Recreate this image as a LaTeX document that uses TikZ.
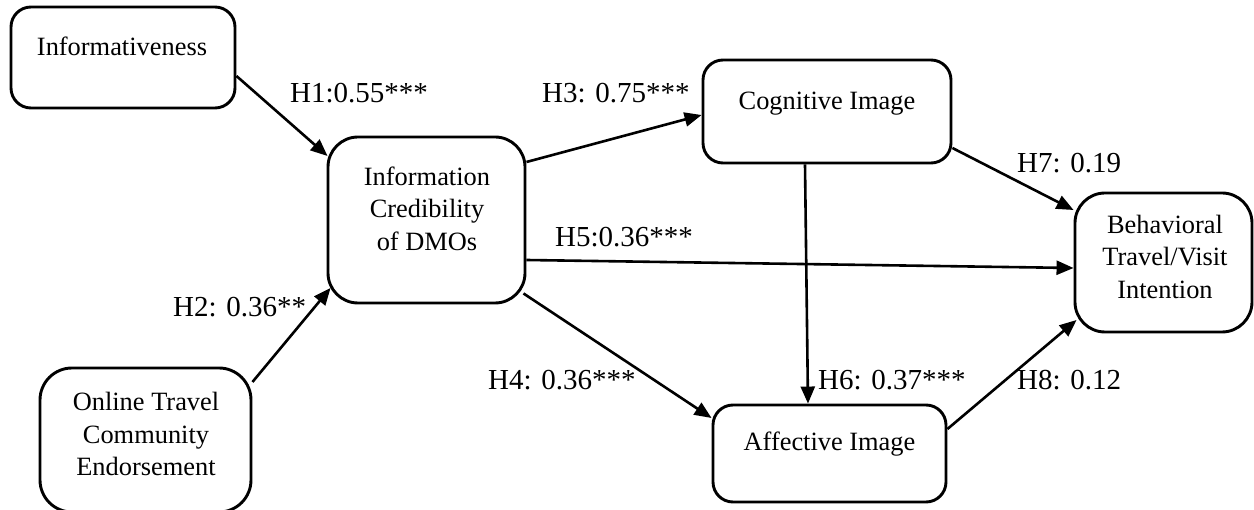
\documentclass[tikz,border=0pt]{standalone}
\usepackage{fontspec}
\setmainfont{Liberation Serif}
\usetikzlibrary{arrows.meta}
\tikzset{
  box/.style={draw, line width=2.9pt, rounded corners=#1, inner sep=0pt},
  box/.default=20pt,
  boxtext/.style={font=\fontsize{26.4}{32.5}\selectfont, align=center, inner sep=0pt},
  lab/.style={font=\fontsize{29}{34}\selectfont, anchor=base west, inner sep=0pt},
  arr/.style={line width=2.6pt, -{Triangle[length=17pt,width=14pt]}}
}
\begin{document}
\begin{tikzpicture}[x=1pt,y=-1pt]
\clip (0,0) rectangle (1254,510);
% boxes
\node[box, minimum width=224pt, minimum height=101pt] (inf) at (123,57.5) {};
\node[box=30pt, minimum width=197pt, minimum height=166pt] (cred) at (426.5,220) {};
\node[box=32pt, minimum width=211pt, minimum height=144pt] (onl) at (145.5,440) {};
\node[box, minimum width=248pt, minimum height=103pt] (cog) at (827,111.5) {};
\node[box, minimum width=233pt, minimum height=97pt] (aff) at (829.5,453.5) {};
\node[box=30pt, minimum width=177pt, minimum height=139pt] (beh) at (1163.5,262.5) {};
% texts
\node[boxtext, anchor=base] (tinf) at (122,56) {Informativeness};
\node[boxtext] (tcred) at (427,208.5) {Information\\Credibility\\of DMOs};
\node[boxtext] (tonl) at (146,434) {Online Travel\\Community\\Endorsement};
\node[boxtext, anchor=base] (tcog) at (827,110) {Cognitive Image};
\node[boxtext, anchor=base] (taff) at (829.5,451) {Affective Image};
\node[boxtext] (tbeh) at (1165,256.5) {Behavioral\\Travel/Visit\\Intention};
% connectors
\draw[arr] ([yshift=-18.5pt]inf.east) -- ([xshift=1pt,yshift=64pt]cred.west);
\draw[arr] ([yshift=58pt]onl.east) -- ([xshift=4pt,yshift=-68pt]cred.west);
\draw[arr] ([yshift=58pt]cred.east) -- ([yshift=-3.5pt]cog.west);
\draw[arr] ([yshift=-40pt]cred.east) -- ([yshift=-5.5pt]beh.west);
\draw[arr] ([xshift=-3pt,yshift=11pt]cred.south east) -- ([yshift=35.5pt]aff.west);
\draw[arr] ([xshift=-22pt]cog.south) -- ([xshift=-21.5pt]aff.north);
\draw[arr] ([yshift=-36.5pt]cog.east) -- ([yshift=52.5pt]beh.west);
\draw[arr] ([yshift=24.5pt]aff.east) -- ([xshift=3pt,yshift=-57.5pt]beh.west);
% labels
\node[lab] (l1) at (290,103) {H1:0.55***};
\node[lab] (l2) at (173,317) {H2: 0.36**};
\node[lab] (l3) at (542,103) {H3: 0.75***};
\node[lab] (l4) at (488,390) {H4: 0.36***};
\node[lab] (l5) at (555,247) {H5:0.36***};
\node[lab] (l6) at (818,390) {H6: 0.37***};
\node[lab] (l7) at (1017,173) {H7: 0.19};
\node[lab] (l8) at (1017,390) {H8: 0.12};
\end{tikzpicture}
\end{document}
